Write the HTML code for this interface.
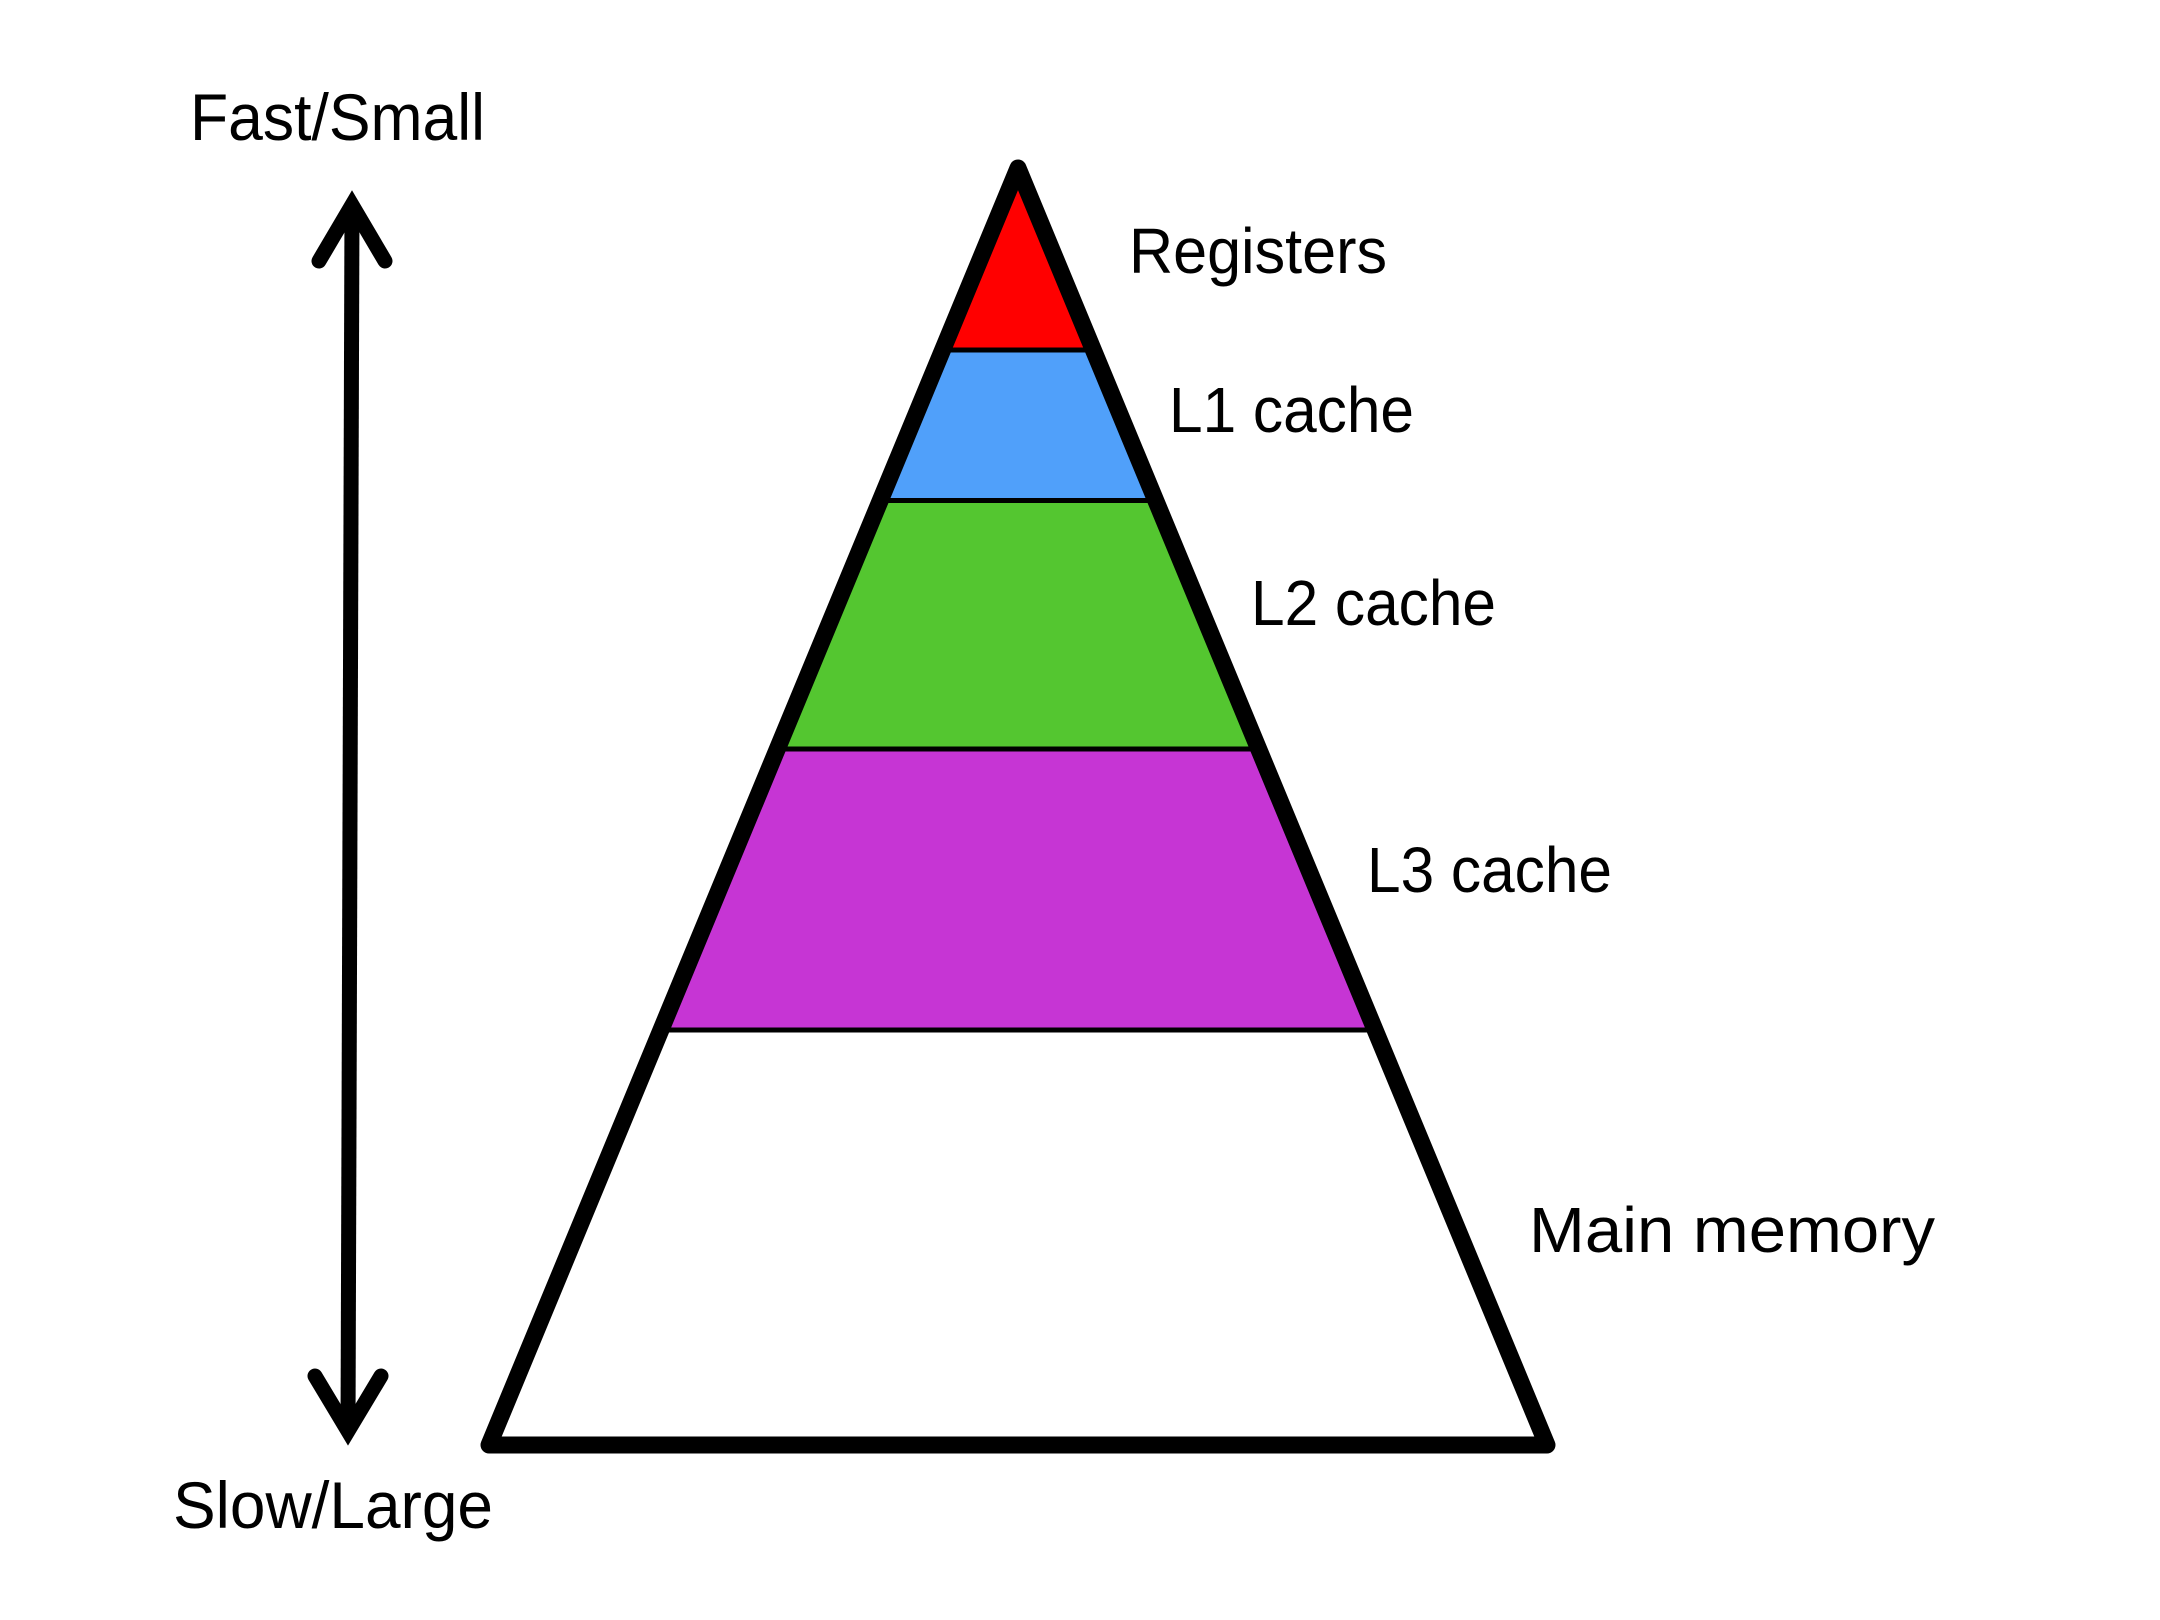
<!DOCTYPE html>
<html>
<head>
<meta charset="utf-8">
<style>
  html, body { margin: 0; padding: 0; background: #ffffff; }
  svg { display: block; }
  text { font-family: "Liberation Sans", "DejaVu Sans", sans-serif; fill: #000; }
</style>
</head>
<body>
<svg width="2160" height="1620" viewBox="0 0 2160 1620" xmlns="http://www.w3.org/2000/svg">
  <rect x="0" y="0" width="2160" height="1620" fill="#ffffff"/>

  <!-- Layer fills -->
  <polygon points="1018,168 942.6,350 1093.4,350" fill="#FF0000"/>
  <polygon points="942.6,350 1093.4,350 1155.8,500.5 880.2,500.5" fill="#50A0FA"/>
  <polygon points="880.2,500.5 1155.8,500.5 1258.9,749 777.1,749" fill="#54C630"/>
  <polygon points="777.1,749 1258.9,749 1375.2,1030 660.8,1030" fill="#C635D4"/>

  <!-- Dividers -->
  <g stroke="#000" stroke-width="5" fill="none">
    <line x1="942.6" y1="350" x2="1093.4" y2="350"/>
    <line x1="880.2" y1="500.5" x2="1155.8" y2="500.5"/>
    <line x1="777.1" y1="749" x2="1258.9" y2="749"/>
    <line x1="660.8" y1="1030" x2="1375.2" y2="1030"/>
  </g>

  <!-- Outer triangle -->
  <polygon points="1018,168 489,1445 1547,1445" fill="none" stroke="#000" stroke-width="17" stroke-linejoin="round"/>

  <!-- Double-headed arrow -->
  <g stroke="#000" stroke-width="15" fill="none" stroke-linecap="round">
    <line x1="352" y1="204" x2="348" y2="1432" stroke-linecap="butt"/>
    <polyline points="319,261 352,205 385,261" stroke-linejoin="miter" stroke-miterlimit="10"/>
    <polyline points="315,1376 348,1431 381,1376" stroke-linejoin="miter" stroke-miterlimit="10"/>
  </g>

  <!-- Labels -->
  <text x="190" y="140" font-size="66" textLength="295" lengthAdjust="spacingAndGlyphs">Fast/Small</text>
  <text x="173" y="1528" font-size="66" textLength="320" lengthAdjust="spacingAndGlyphs">Slow/Large</text>
  <text x="1129" y="273" font-size="64" textLength="258" lengthAdjust="spacingAndGlyphs">Registers</text>
  <text x="1169" y="432" font-size="64" textLength="245" lengthAdjust="spacingAndGlyphs">L1 cache</text>
  <text x="1251" y="625" font-size="64" textLength="245" lengthAdjust="spacingAndGlyphs">L2 cache</text>
  <text x="1367" y="892" font-size="64" textLength="245" lengthAdjust="spacingAndGlyphs">L3 cache</text>
  <text x="1529" y="1252" font-size="64" textLength="406" lengthAdjust="spacingAndGlyphs">Main memory</text>
</svg>
</body>
</html>
